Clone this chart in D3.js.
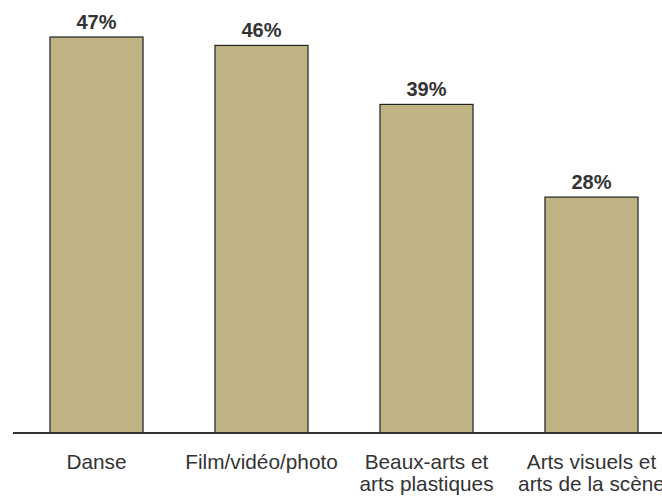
<!DOCTYPE html>
<meta charset="utf-8">
<style>
body { margin: 0; background: #fff; }
text { font-family: "Liberation Sans", Arial, sans-serif; fill: #333; }
</style>
<svg width="662" height="496"></svg>
<script src="https://d3js.org/d3.v7.min.js"></script>
<script>
var categories = [["Danse"], ["Film/vidéo/photo"], ["Beaux-arts et", "arts plastiques"], ["Arts visuels et", "arts de la scène"]];
var values = [47, 46, 39, 28];

var svg = d3.select("svg");

var x = d3.scaleBand()
    .domain(d3.range(values.length))
    .range([14, 674])
    .paddingInner(0.436)
    .paddingOuter(0.218);

var y = d3.scaleLinear()
    .domain([0, 47])
    .range([433, 37]);

svg.append("g").selectAll("rect")
  .data(values)
  .enter().append("rect")
    .attr("x", function(d, i) { return x(i); })
    .attr("y", function(d) { return y(d); })
    .attr("width", x.bandwidth())
    .attr("height", function(d) { return y(0) - y(d); })
    .attr("fill", "#bfb283")
    .attr("stroke", "#222")
    .attr("stroke-width", 1.2);

svg.append("line")
    .attr("x1", 13).attr("x2", 662)
    .attr("y1", y(0)).attr("y2", y(0))
    .attr("stroke", "#333")
    .attr("stroke-width", 2);

svg.append("g").selectAll("text")
  .data(values)
  .enter().append("text")
    .attr("x", function(d, i) { return x(i) + x.bandwidth() / 2; })
    .attr("y", function(d) { return y(d) - 8; })
    .attr("text-anchor", "middle")
    .attr("font-size", 20)
    .attr("font-weight", "bold")
    .text(function(d) { return d + "%"; });

var lab = svg.append("g").selectAll("text")
  .data(categories)
  .enter().append("text")
    .attr("x", function(d, i) { return x(i) + x.bandwidth() / 2; })
    .attr("y", 469)
    .attr("text-anchor", "middle")
    .attr("font-size", 20.8);

lab.selectAll("tspan")
  .data(function(d) { return d; })
  .enter().append("tspan")
    .attr("x", function() { return d3.select(this.parentNode).attr("x"); })
    .attr("dy", function(d, j) { return j ? 22 : 0; })
    .text(function(d) { return d; });
</script>
